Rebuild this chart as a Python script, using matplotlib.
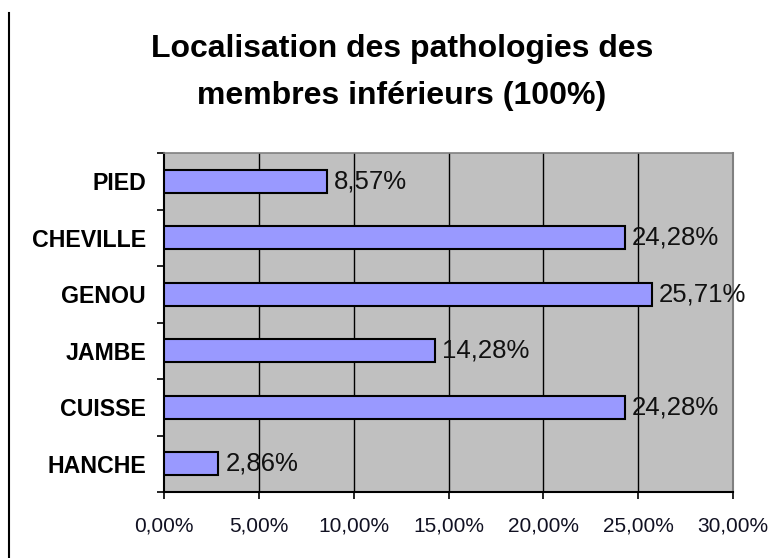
import matplotlib
matplotlib.use("Agg")
import matplotlib.pyplot as plt
from matplotlib.lines import Line2D
import numpy as np

categories = ["HANCHE", "CUISSE", "JAMBE", "GENOU", "CHEVILLE", "PIED"]
values = [2.86, 24.28, 14.28, 25.71, 24.28, 8.57]
value_labels = ["2,86%", "24,28%", "14,28%", "25,71%", "24,28%", "8,57%"]
xticks = [0, 5, 10, 15, 20, 25, 30]
xtick_labels = ["0,00%", "5,00%", "10,00%", "15,00%", "20,00%", "25,00%", "30,00%"]
title_lines = ["Localisation des pathologies des", "membres inférieurs (100%)"]

plt.rcParams['font.family'] = ['Liberation Sans', 'DejaVu Sans']

fig = plt.figure(figsize=(7.72, 5.58), dpi=100)
ax = fig.add_axes([164/772, 1-492/558, (733-164)/772, (492-153)/558])
ax.set_facecolor("#C0C0C0")

y = np.arange(len(categories))
ax.barh(y, values, height=0.41, color="#9999FF", edgecolor="black", linewidth=1.5, zorder=3)
for yi, v, lab in zip(y, values, value_labels):
    ax.text(v + 0.38, yi, lab, va="center", ha="left", fontsize=18.5, color="#111111", zorder=4)

ax.set_xlim(0, 30)
ax.set_ylim(-0.5, len(categories) - 0.5)
ax.set_xticks(xticks)
ax.set_xticklabels(xtick_labels, fontsize=15, color="#111122")
ax.tick_params(axis="x", direction="out", length=5, width=1.2, pad=13)
ax.set_yticks(y)
ax.set_yticklabels(categories, fontsize=16.7, fontweight="bold")
ax.tick_params(axis="y", which="major", length=0, pad=13)
ax.set_yticks(np.arange(-0.5, len(categories), 1), minor=True)
ax.tick_params(axis="y", which="minor", direction="out", length=5, width=1.2)

for g in xticks[1:-1]:
    ax.axvline(g, color="black", linewidth=1.0, zorder=1)

ax.spines["left"].set_color("black")
ax.spines["left"].set_linewidth(1.5)
ax.spines["bottom"].set_color("black")
ax.spines["bottom"].set_linewidth(1.5)
ax.spines["top"].set_color("#808080")
ax.spines["top"].set_linewidth(1.2)
ax.spines["right"].set_color("#808080")
ax.spines["right"].set_linewidth(1.5)

fig.text(402/772, 1-49/558, title_lines[0], ha="center", va="center", fontsize=23, fontweight="bold")
fig.text(402/772, 1-96/558, title_lines[1], ha="center", va="center", fontsize=23, fontweight="bold")

fig.add_artist(Line2D([9/772, 9/772], [0, 1-13/558], color="black", linewidth=1.5))

fig.savefig("out.png", dpi=100)
